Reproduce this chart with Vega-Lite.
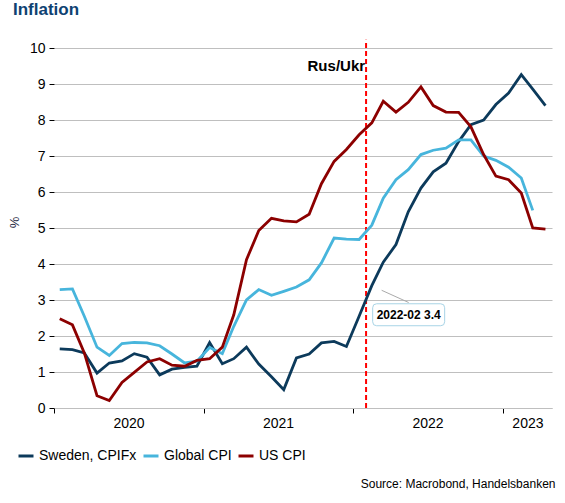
{
  "$schema": "https://vega.github.io/schema/vega-lite/v6.json",
  "width": 498,
  "height": 360,
  "autosize": "none",
  "padding": {"left": 54, "top": 48, "right": 13, "bottom": 95},
  "background": "white",
  "title": {
    "text": "Inflation",
    "anchor": "start",
    "frame": "group",
    "font": "Liberation Sans",
    "fontSize": 17,
    "fontWeight": "bold",
    "color": "#0e4272",
    "dx": -41,
    "offset": 20
  },
  "encoding": {
    "x": {
      "field": "date",
      "type": "temporal",
      "scale": {
        "type": "utc",
        "domain": [
          {"year": 2020, "month": 1, "date": 1, "utc": true},
          {"year": 2023, "month": 5, "date": 1, "utc": true}
        ]
      },
      "axis": {
        "values": [
          {"year": 2020, "month": 1, "date": 1, "utc": true},
          {"year": 2020, "month": 7, "date": 1, "utc": true},
          {"year": 2021, "month": 1, "date": 1, "utc": true},
          {"year": 2021, "month": 7, "date": 1, "utc": true},
          {"year": 2022, "month": 1, "date": 1, "utc": true},
          {"year": 2022, "month": 7, "date": 1, "utc": true},
          {"year": 2023, "month": 1, "date": 1, "utc": true},
          {"year": 2023, "month": 3, "date": 2, "utc": true}
        ],
        "labelExpr": "utcmonth(datum.value) == 0 ? '' : utcFormat(datum.value, '%Y')",
        "tickOpacity": {"condition": {"test": "utcmonth(datum.value) != 0", "value": 0}, "value": 1},
        "grid": false,
        "domainColor": "#bfbfbf",
        "tickColor": "#000000",
        "tickSize": 5,
        "labelFontSize": 14,
        "labelPadding": 3,
        "labelOverlap": false,
        "labelFlush": false,
        "title": "Source: Macrobond, Handelsbanken",
        "titleFontSize": 12,
        "titleFontWeight": "normal",
        "titleColor": "#000000",
        "titleX": 501,
        "titleY": 75,
        "titleAlign": "right",
        "titleBaseline": "middle"
      }
    },
    "y": {
      "field": "value",
      "type": "quantitative",
      "scale": {"domain": [0, 10], "nice": false},
      "axis": {
        "values": [0, 1, 2, 3, 4, 5, 6, 7, 8, 9, 10],
        "grid": true,
        "gridColor": "#bfbfbf",
        "domain": false,
        "tickColor": "#000000",
        "tickSize": 5,
        "labelFontSize": 14,
        "labelPadding": 4,
        "title": "%",
        "titleFontSize": 13,
        "titleFontWeight": "normal",
        "titleColor": "#1f2a44",
        "titleX": -33,
        "titleY": 174
      }
    }
  },
  "layer": [
    {
      "data": {"values": [{"date": "2022-02-01", "value": 0, "top": 10.23}]},
      "mark": {"type": "rule", "color": "#ff0000", "strokeWidth": 2, "strokeDash": [5, 3]},
      "encoding": {"y2": {"field": "top"}}
    },
    {
      "data": {"name": "inflation"},
      "mark": {"type": "line", "strokeWidth": 2.8},
      "encoding": {
        "color": {
          "field": "series",
          "type": "nominal",
          "scale": {
            "domain": ["Sweden, CPIFx", "Global CPI", "US CPI"],
            "range": ["#0c3a5b", "#47b5dc", "#8c0000"]
          },
          "legend": {
            "orient": "none",
            "legendX": -37,
            "legendY": 399,
            "direction": "horizontal",
            "gridAlign": "each",
            "columns": 3,
            "title": null,
            "symbolType": "stroke",
            "symbolSize": 225,
            "symbolStrokeWidth": 3,
            "labelFont": "Liberation Sans",
            "labelFontSize": 14,
            "labelOffset": 4,
            "columnPadding": 0,
            "padding": 0,
            "labelColor": "#000000"
          }
        }
      }
    },
    {
      "data": {"values": [{"date": "2022-02-01", "value": 9.5, "label": "Rus/Ukr"}]},
      "mark": {"type": "text", "align": "right", "baseline": "middle", "dx": -1, "fontSize": 15, "fontWeight": "bold", "color": "#000000"},
      "encoding": {"text": {"field": "label"}}
    },
    {
      "data": {"values": [{"date": "2022-03-11", "value": 3.27, "date2": "2022-05-16", "value2": 2.93}]},
      "mark": {"type": "rule", "color": "#aaaaaa", "strokeWidth": 1},
      "encoding": {"x2": {"field": "date2"}, "y2": {"field": "value2"}}
    },
    {
      "data": {"name": "callout"},
      "mark": {
        "type": "point",
        "shape": "M-0.89,-0.305 L0.89,-0.305 Q1,-0.305 1,-0.195 L1,0.195 Q1,0.305 0.89,0.305 L-0.89,0.305 Q-1,0.305 -1,0.195 L-1,-0.195 Q-1,-0.305 -0.89,-0.305 Z",
        "size": 5184,
        "filled": true,
        "fill": "#ffffff",
        "stroke": "#a8d4e6",
        "strokeWidth": 1,
        "opacity": 1
      }
    },
    {
      "data": {"name": "callout"},
      "mark": {"type": "text", "align": "center", "baseline": "middle", "fontSize": 12, "fontWeight": "bold", "color": "#000000"},
      "encoding": {"text": {"field": "label"}}
    }
  ],
  "datasets": {
    "callout": [{"date": "2022-05-16", "value": 2.59, "label": "2022-02 3.4"}],
    "inflation": [
      {"date": "2020-01-15", "series": "Sweden, CPIFx", "value": 1.64},
      {"date": "2020-02-15", "series": "Sweden, CPIFx", "value": 1.62},
      {"date": "2020-03-15", "series": "Sweden, CPIFx", "value": 1.53},
      {"date": "2020-04-15", "series": "Sweden, CPIFx", "value": 0.97},
      {"date": "2020-05-15", "series": "Sweden, CPIFx", "value": 1.25},
      {"date": "2020-06-15", "series": "Sweden, CPIFx", "value": 1.31},
      {"date": "2020-07-15", "series": "Sweden, CPIFx", "value": 1.51},
      {"date": "2020-08-15", "series": "Sweden, CPIFx", "value": 1.41},
      {"date": "2020-09-15", "series": "Sweden, CPIFx", "value": 0.92},
      {"date": "2020-10-15", "series": "Sweden, CPIFx", "value": 1.08},
      {"date": "2020-11-15", "series": "Sweden, CPIFx", "value": 1.13},
      {"date": "2020-12-15", "series": "Sweden, CPIFx", "value": 1.16},
      {"date": "2021-01-15", "series": "Sweden, CPIFx", "value": 1.82},
      {"date": "2021-02-15", "series": "Sweden, CPIFx", "value": 1.23},
      {"date": "2021-03-15", "series": "Sweden, CPIFx", "value": 1.37},
      {"date": "2021-04-15", "series": "Sweden, CPIFx", "value": 1.69},
      {"date": "2021-05-15", "series": "Sweden, CPIFx", "value": 1.22},
      {"date": "2021-06-15", "series": "Sweden, CPIFx", "value": 0.87},
      {"date": "2021-07-15", "series": "Sweden, CPIFx", "value": 0.51},
      {"date": "2021-08-15", "series": "Sweden, CPIFx", "value": 1.39},
      {"date": "2021-09-15", "series": "Sweden, CPIFx", "value": 1.5},
      {"date": "2021-10-15", "series": "Sweden, CPIFx", "value": 1.81},
      {"date": "2021-11-15", "series": "Sweden, CPIFx", "value": 1.85},
      {"date": "2021-12-15", "series": "Sweden, CPIFx", "value": 1.71},
      {"date": "2022-01-15", "series": "Sweden, CPIFx", "value": 2.55},
      {"date": "2022-02-15", "series": "Sweden, CPIFx", "value": 3.4},
      {"date": "2022-03-15", "series": "Sweden, CPIFx", "value": 4.05},
      {"date": "2022-04-15", "series": "Sweden, CPIFx", "value": 4.54},
      {"date": "2022-05-15", "series": "Sweden, CPIFx", "value": 5.45},
      {"date": "2022-06-15", "series": "Sweden, CPIFx", "value": 6.11},
      {"date": "2022-07-15", "series": "Sweden, CPIFx", "value": 6.56},
      {"date": "2022-08-15", "series": "Sweden, CPIFx", "value": 6.8},
      {"date": "2022-09-15", "series": "Sweden, CPIFx", "value": 7.4},
      {"date": "2022-10-15", "series": "Sweden, CPIFx", "value": 7.87},
      {"date": "2022-11-15", "series": "Sweden, CPIFx", "value": 8.0},
      {"date": "2022-12-15", "series": "Sweden, CPIFx", "value": 8.43},
      {"date": "2023-01-15", "series": "Sweden, CPIFx", "value": 8.75},
      {"date": "2023-02-15", "series": "Sweden, CPIFx", "value": 9.26},
      {"date": "2023-03-15", "series": "Sweden, CPIFx", "value": 8.86},
      {"date": "2023-04-15", "series": "Sweden, CPIFx", "value": 8.4},
      {"date": "2020-01-15", "series": "Global CPI", "value": 3.29},
      {"date": "2020-02-15", "series": "Global CPI", "value": 3.31},
      {"date": "2020-03-15", "series": "Global CPI", "value": 2.55},
      {"date": "2020-04-15", "series": "Global CPI", "value": 1.69},
      {"date": "2020-05-15", "series": "Global CPI", "value": 1.46},
      {"date": "2020-06-15", "series": "Global CPI", "value": 1.79},
      {"date": "2020-07-15", "series": "Global CPI", "value": 1.82},
      {"date": "2020-08-15", "series": "Global CPI", "value": 1.81},
      {"date": "2020-09-15", "series": "Global CPI", "value": 1.73},
      {"date": "2020-10-15", "series": "Global CPI", "value": 1.5},
      {"date": "2020-11-15", "series": "Global CPI", "value": 1.25},
      {"date": "2020-12-15", "series": "Global CPI", "value": 1.3},
      {"date": "2021-01-15", "series": "Global CPI", "value": 1.68},
      {"date": "2021-02-15", "series": "Global CPI", "value": 1.51},
      {"date": "2021-03-15", "series": "Global CPI", "value": 2.27},
      {"date": "2021-04-15", "series": "Global CPI", "value": 3.0},
      {"date": "2021-05-15", "series": "Global CPI", "value": 3.29},
      {"date": "2021-06-15", "series": "Global CPI", "value": 3.13},
      {"date": "2021-07-15", "series": "Global CPI", "value": 3.24},
      {"date": "2021-08-15", "series": "Global CPI", "value": 3.36},
      {"date": "2021-09-15", "series": "Global CPI", "value": 3.56},
      {"date": "2021-10-15", "series": "Global CPI", "value": 4.03},
      {"date": "2021-11-15", "series": "Global CPI", "value": 4.72},
      {"date": "2021-12-15", "series": "Global CPI", "value": 4.69},
      {"date": "2022-01-15", "series": "Global CPI", "value": 4.68},
      {"date": "2022-02-15", "series": "Global CPI", "value": 5.08},
      {"date": "2022-03-15", "series": "Global CPI", "value": 5.83},
      {"date": "2022-04-15", "series": "Global CPI", "value": 6.34},
      {"date": "2022-05-15", "series": "Global CPI", "value": 6.62},
      {"date": "2022-06-15", "series": "Global CPI", "value": 7.04},
      {"date": "2022-07-15", "series": "Global CPI", "value": 7.16},
      {"date": "2022-08-15", "series": "Global CPI", "value": 7.22},
      {"date": "2022-09-15", "series": "Global CPI", "value": 7.45},
      {"date": "2022-10-15", "series": "Global CPI", "value": 7.45},
      {"date": "2022-11-15", "series": "Global CPI", "value": 7.0},
      {"date": "2022-12-15", "series": "Global CPI", "value": 6.88},
      {"date": "2023-01-15", "series": "Global CPI", "value": 6.69},
      {"date": "2023-02-15", "series": "Global CPI", "value": 6.39},
      {"date": "2023-03-15", "series": "Global CPI", "value": 5.49},
      {"date": "2020-01-15", "series": "US CPI", "value": 2.48},
      {"date": "2020-02-15", "series": "US CPI", "value": 2.31},
      {"date": "2020-03-15", "series": "US CPI", "value": 1.53},
      {"date": "2020-04-15", "series": "US CPI", "value": 0.34},
      {"date": "2020-05-15", "series": "US CPI", "value": 0.21},
      {"date": "2020-06-15", "series": "US CPI", "value": 0.71},
      {"date": "2020-07-15", "series": "US CPI", "value": 0.99},
      {"date": "2020-08-15", "series": "US CPI", "value": 1.28},
      {"date": "2020-09-15", "series": "US CPI", "value": 1.37},
      {"date": "2020-10-15", "series": "US CPI", "value": 1.19},
      {"date": "2020-11-15", "series": "US CPI", "value": 1.16},
      {"date": "2020-12-15", "series": "US CPI", "value": 1.32},
      {"date": "2021-01-15", "series": "US CPI", "value": 1.37},
      {"date": "2021-02-15", "series": "US CPI", "value": 1.69},
      {"date": "2021-03-15", "series": "US CPI", "value": 2.59},
      {"date": "2021-04-15", "series": "US CPI", "value": 4.12},
      {"date": "2021-05-15", "series": "US CPI", "value": 4.93},
      {"date": "2021-06-15", "series": "US CPI", "value": 5.27},
      {"date": "2021-07-15", "series": "US CPI", "value": 5.2},
      {"date": "2021-08-15", "series": "US CPI", "value": 5.17},
      {"date": "2021-09-15", "series": "US CPI", "value": 5.38},
      {"date": "2021-10-15", "series": "US CPI", "value": 6.23},
      {"date": "2021-11-15", "series": "US CPI", "value": 6.85},
      {"date": "2021-12-15", "series": "US CPI", "value": 7.18},
      {"date": "2022-01-15", "series": "US CPI", "value": 7.59},
      {"date": "2022-02-15", "series": "US CPI", "value": 7.92},
      {"date": "2022-03-15", "series": "US CPI", "value": 8.52},
      {"date": "2022-04-15", "series": "US CPI", "value": 8.22},
      {"date": "2022-05-15", "series": "US CPI", "value": 8.49},
      {"date": "2022-06-15", "series": "US CPI", "value": 8.92},
      {"date": "2022-07-15", "series": "US CPI", "value": 8.4},
      {"date": "2022-08-15", "series": "US CPI", "value": 8.22},
      {"date": "2022-09-15", "series": "US CPI", "value": 8.21},
      {"date": "2022-10-15", "series": "US CPI", "value": 7.81},
      {"date": "2022-11-15", "series": "US CPI", "value": 7.04},
      {"date": "2022-12-15", "series": "US CPI", "value": 6.44},
      {"date": "2023-01-15", "series": "US CPI", "value": 6.34},
      {"date": "2023-02-15", "series": "US CPI", "value": 5.97},
      {"date": "2023-03-15", "series": "US CPI", "value": 5.0},
      {"date": "2023-04-15", "series": "US CPI", "value": 4.97}
    ]
  },
  "config": {
    "font": "Liberation Sans",
    "view": {"stroke": null},
    "axis": {"labelColor": "#000000"}
  }
}
